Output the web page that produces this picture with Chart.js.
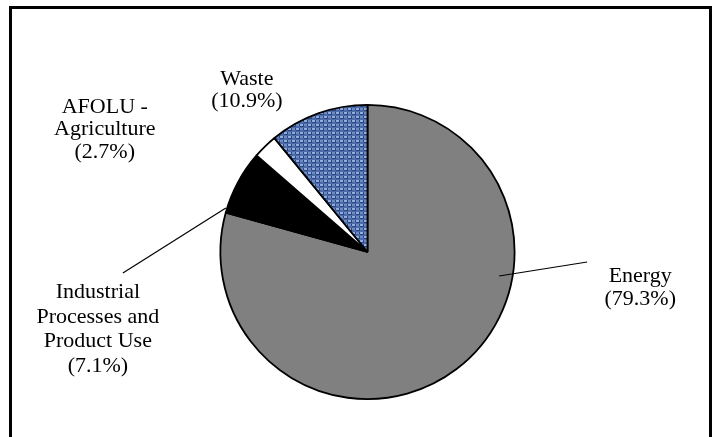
<!DOCTYPE html>
<html>
<head>
<meta charset="utf-8">
<script src="https://cdn.jsdelivr.net/npm/chart.js@4/dist/chart.umd.min.js"></script>
<style>
  html, body { margin: 0; padding: 0; background: #ffffff; }
  #wrap { width: 714px; height: 437px; position: relative; }
</style>
</head>
<body>
<div id="wrap"><canvas id="c" width="714" height="437"></canvas></div>
<script>
// ---- data ----
const categories = [
  ['Energy'],
  ['Industrial', 'Processes and', 'Product Use'],
  ['AFOLU -', 'Agriculture'],
  ['Waste']
];
const shares = [79.3, 7.1, 2.7, 10.9];

// ---- styles ----
function makeWeave() {
  const p = document.createElement('canvas');
  p.width = 8; p.height = 8;
  const g = p.getContext('2d');
  g.fillStyle = '#4a6aa8';
  g.fillRect(0, 0, 8, 8);
  // light threads
  g.fillStyle = '#93aedc';
  g.fillRect(0, 0, 3, 2); g.fillRect(4, 4, 3, 2);
  g.fillRect(5, 1, 2, 1); g.fillRect(1, 5, 2, 1);
  // mid threads
  g.fillStyle = '#6d8cc6';
  g.fillRect(4, 0, 3, 2); g.fillRect(0, 4, 3, 2);
  // dark gaps
  g.fillStyle = '#2a4580';
  g.fillRect(3, 0, 1, 3); g.fillRect(7, 4, 1, 3);
  g.fillRect(0, 2, 3, 1); g.fillRect(4, 6, 3, 1);
  g.fillRect(7, 0, 1, 2); g.fillRect(3, 4, 1, 2);
  return g.createPattern(p, 'repeat');
}
const ctx = document.getElementById('c').getContext('2d');
const sliceColors = ['#808080', '#000000', '#ffffff', makeWeave()];

// label layout in units of the pie radius, relative to the pie centre
const labelLayout = [
  { dx: 1.854, dy: 0.204, lh: 23, line: [[0.895, 0.163], [1.493, 0.068]] },
  { dx: -1.833, dy: 0.313, lh: 24.7, line: [[-1.663, 0.143], [-0.963, -0.299]] },
  { dx: -1.786, dy: -0.946, lh: 22.5, line: null },
  { dx: -0.820, dy: -1.136, lh: 22, line: null }
];

const frameAndLabels = {
  id: 'frameAndLabels',
  beforeDraw(chart) {
    const c = chart.ctx;
    c.save();
    c.fillStyle = '#ffffff';
    c.fillRect(0, 0, chart.width, chart.height);
    c.restore();
  },
  afterDatasetsDraw(chart) {
    const c = chart.ctx;
    const arc = chart.getDatasetMeta(0).data[0];
    const { x: cx, y: cy, outerRadius: r } = arc.getProps(['x', 'y', 'outerRadius'], true);
    c.save();
    // frame
    c.strokeStyle = '#000000';
    c.lineWidth = 3;
    c.beginPath();
    c.moveTo(10.5, chart.height + 5);
    c.lineTo(10.5, 7.5);
    c.lineTo(710.5, 7.5);
    c.lineTo(710.5, chart.height + 5);
    c.stroke();
    // labels
    c.fillStyle = '#000000';
    c.font = '22px "Liberation Serif", "Times New Roman", serif';
    c.textAlign = 'center';
    c.textBaseline = 'alphabetic';
    labelLayout.forEach((L, i) => {
      const lines = categories[i].concat(['(' + shares[i].toFixed(1) + '%)']);
      const x = cx + L.dx * r;
      let y = cy + L.dy * r;
      lines.forEach(t => { c.fillText(t, x, y); y += L.lh; });
      if (L.line) {
        c.strokeStyle = '#000000';
        c.lineWidth = 1.2;
        c.beginPath();
        c.moveTo(cx + L.line[0][0] * r, cy + L.line[0][1] * r);
        c.lineTo(cx + L.line[1][0] * r, cy + L.line[1][1] * r);
        c.stroke();
      }
    });
    c.restore();
  }
};

new Chart(ctx, {
  type: 'pie',
  data: {
    labels: categories,
    datasets: [{
      data: shares,
      backgroundColor: sliceColors,
      borderColor: '#000000',
      borderWidth: 1.8,
      hoverOffset: 0,
      offset: 0
    }]
  },
  options: {
    responsive: false,
    animation: false,
    rotation: 0,
    layout: { padding: { top: 104, bottom: 37, left: 219, right: 198 } },
    plugins: {
      legend: { display: false },
      tooltip: { enabled: false }
    }
  },
  plugins: [frameAndLabels]
});
</script>
</body>
</html>
